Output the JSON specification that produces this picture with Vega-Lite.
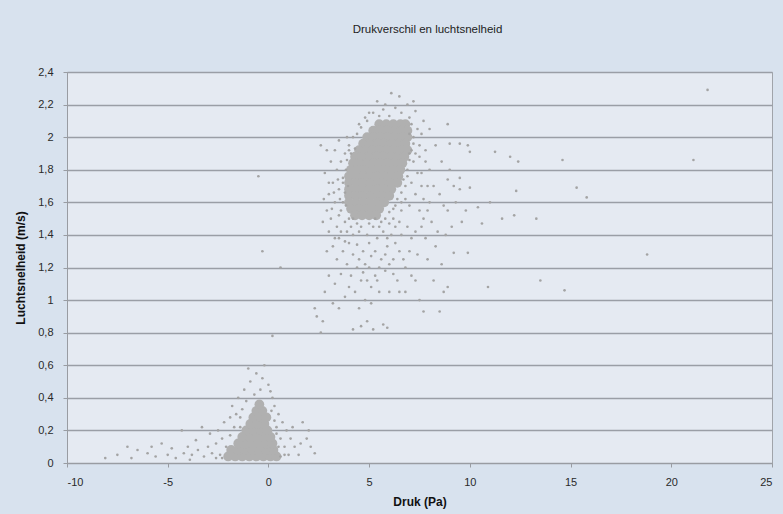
{
  "$schema": "https://vega.github.io/schema/vega-lite/v6.json",
  "autosize": "none",
  "width": 705,
  "height": 391,
  "padding": {"left": 67, "top": 72, "right": 11, "bottom": 51},
  "background": "#d8e2ee",
  "title": {"text": "Drukverschil en luchtsnelheid", "fontSize": 11.5, "fontWeight": "normal", "font": "Liberation Sans", "color": "#222222", "offset": 31, "dx": 8},
  "config": {
    "view": {"fill": "#e5eaf2", "stroke": "#a0a4aa", "strokeWidth": 1},
    "axis": {"labelFont": "Liberation Sans", "titleFont": "Liberation Sans", "labelFontSize": 11, "labelColor": "#2a2a2a", "titleColor": "#111111", "titleFontSize": 12, "titleFontWeight": "bold", "domainColor": "#999ca2", "tickColor": "#999ca2", "tickSize": 4, "labelOverlap": false}
  },
  "datasets": {
    "core": [
      {"x":5.5,"y":2.08},{"x":5.85,"y":2.08},{"x":6.2,"y":2.08},{"x":6.55,"y":2.08},{"x":6.8,"y":2.08},
      {"x":5.2,"y":2.04},{"x":5.55,"y":2.04},{"x":5.9,"y":2.04},{"x":6.25,"y":2.04},{"x":6.6,"y":2.04},{"x":6.9,"y":2.04},
      {"x":4.9,"y":2.0},{"x":5.25,"y":2.0},{"x":5.6,"y":2.0},{"x":5.95,"y":2.0},{"x":6.3,"y":2.0},{"x":6.65,"y":2.0},{"x":6.9,"y":2.0},
      {"x":4.7,"y":1.96},{"x":5.05,"y":1.96},{"x":5.4,"y":1.96},{"x":5.75,"y":1.96},{"x":6.1,"y":1.96},{"x":6.45,"y":1.96},{"x":6.8,"y":1.96},
      {"x":4.5,"y":1.92},{"x":4.85,"y":1.92},{"x":5.2,"y":1.92},{"x":5.55,"y":1.92},{"x":5.9,"y":1.92},{"x":6.25,"y":1.92},{"x":6.6,"y":1.92},{"x":6.9,"y":1.92},
      {"x":4.3,"y":1.88},{"x":4.65,"y":1.88},{"x":5.0,"y":1.88},{"x":5.35,"y":1.88},{"x":5.7,"y":1.88},{"x":6.05,"y":1.88},{"x":6.4,"y":1.88},{"x":6.75,"y":1.88},
      {"x":4.2,"y":1.84},{"x":4.55,"y":1.84},{"x":4.9,"y":1.84},{"x":5.25,"y":1.84},{"x":5.6,"y":1.84},{"x":5.95,"y":1.84},{"x":6.3,"y":1.84},{"x":6.65,"y":1.84},
      {"x":4.1,"y":1.8},{"x":4.45,"y":1.8},{"x":4.8,"y":1.8},{"x":5.15,"y":1.8},{"x":5.5,"y":1.8},{"x":5.85,"y":1.8},{"x":6.2,"y":1.8},{"x":6.55,"y":1.8},
      {"x":4.0,"y":1.76},{"x":4.35,"y":1.76},{"x":4.7,"y":1.76},{"x":5.05,"y":1.76},{"x":5.4,"y":1.76},{"x":5.75,"y":1.76},{"x":6.1,"y":1.76},{"x":6.45,"y":1.76},
      {"x":4.0,"y":1.72},{"x":4.35,"y":1.72},{"x":4.7,"y":1.72},{"x":5.05,"y":1.72},{"x":5.4,"y":1.72},{"x":5.75,"y":1.72},{"x":6.1,"y":1.72},{"x":6.4,"y":1.72},
      {"x":4.0,"y":1.68},{"x":4.35,"y":1.68},{"x":4.7,"y":1.68},{"x":5.05,"y":1.68},{"x":5.4,"y":1.68},{"x":5.75,"y":1.68},{"x":6.1,"y":1.68},
      {"x":4.0,"y":1.64},{"x":4.35,"y":1.64},{"x":4.7,"y":1.64},{"x":5.05,"y":1.64},{"x":5.4,"y":1.64},{"x":5.75,"y":1.64},{"x":6.0,"y":1.64},
      {"x":4.0,"y":1.6},{"x":4.35,"y":1.6},{"x":4.7,"y":1.6},{"x":5.05,"y":1.6},{"x":5.4,"y":1.6},{"x":5.75,"y":1.6},
      {"x":4.1,"y":1.56},{"x":4.45,"y":1.56},{"x":4.8,"y":1.56},{"x":5.15,"y":1.56},{"x":5.5,"y":1.56},
      {"x":4.3,"y":1.52},{"x":4.65,"y":1.52},{"x":5.0,"y":1.52},{"x":5.35,"y":1.52},
      {"x":-2.0,"y":0.04},{"x":-1.65,"y":0.04},{"x":-1.3,"y":0.04},{"x":-0.95,"y":0.04},{"x":-0.6,"y":0.04},{"x":-0.25,"y":0.04},{"x":0.1,"y":0.04},{"x":0.4,"y":0.04},
      {"x":-1.85,"y":0.08},{"x":-1.5,"y":0.08},{"x":-1.15,"y":0.08},{"x":-0.8,"y":0.08},{"x":-0.45,"y":0.08},{"x":-0.1,"y":0.08},{"x":0.25,"y":0.08},
      {"x":-1.5,"y":0.12},{"x":-1.15,"y":0.12},{"x":-0.8,"y":0.12},{"x":-0.45,"y":0.12},{"x":-0.1,"y":0.12},{"x":0.2,"y":0.12},
      {"x":-1.3,"y":0.16},{"x":-0.95,"y":0.16},{"x":-0.6,"y":0.16},{"x":-0.25,"y":0.16},{"x":0.1,"y":0.16},
      {"x":-1.1,"y":0.2},{"x":-0.75,"y":0.2},{"x":-0.4,"y":0.2},{"x":-0.05,"y":0.2},
      {"x":-0.9,"y":0.24},{"x":-0.55,"y":0.24},{"x":-0.2,"y":0.24},
      {"x":-0.75,"y":0.28},{"x":-0.4,"y":0.28},{"x":-0.1,"y":0.28},
      {"x":-0.6,"y":0.32},{"x":-0.3,"y":0.32},
      {"x":-0.45,"y":0.36}
    ],
    "pts": [
      {"x":5.2,"y":2.15},{"x":5.8,"y":2.2},{"x":6.1,"y":2.27},{"x":6.5,"y":2.25},{"x":7.2,"y":2.22},{"x":6.0,"y":2.13},{"x":6.6,"y":2.15},{"x":7.0,"y":2.12},{"x":5.5,"y":2.13},{"x":7.3,"y":2.16},
      {"x":4.9,"y":2.1},{"x":4.6,"y":2.06},{"x":4.4,"y":2.02},{"x":7.4,"y":2.05},{"x":7.6,"y":2.02},{"x":7.2,"y":2.0},{"x":8.0,"y":2.05},{"x":8.3,"y":1.95},{"x":7.8,"y":1.92},{"x":7.5,"y":1.95},
      {"x":3.9,"y":2.0},{"x":3.5,"y":1.98},{"x":2.6,"y":1.95},{"x":2.9,"y":1.92},{"x":-0.5,"y":1.76},{"x":6.9,"y":2.2},{"x":5.4,"y":2.22},
      {"x":3.8,"y":1.9},{"x":3.6,"y":1.85},{"x":3.4,"y":1.8},{"x":3.7,"y":1.75},{"x":3.2,"y":1.72},{"x":3.5,"y":1.68},{"x":3.0,"y":1.65},{"x":3.3,"y":1.6},{"x":3.6,"y":1.55},{"x":3.1,"y":1.5},
      {"x":3.4,"y":1.45},{"x":2.9,"y":1.55},{"x":3.8,"y":1.48},{"x":3.9,"y":1.42},{"x":3.5,"y":1.38},{"x":3.2,"y":1.33},{"x":3.7,"y":1.3},{"x":4.0,"y":1.35},{"x":4.2,"y":1.28},{"x":3.9,"y":1.22},
      {"x":4.4,"y":1.2},{"x":4.1,"y":1.15},{"x":4.6,"y":1.12},{"x":4.3,"y":1.05},{"x":4.8,"y":1.0},{"x":4.5,"y":0.95},{"x":4.2,"y":1.4},{"x":4.6,"y":1.45},{"x":4.9,"y":1.4},{"x":5.2,"y":1.45},
      {"x":5.0,"y":1.35},{"x":5.4,"y":1.38},{"x":5.7,"y":1.42},{"x":5.3,"y":1.3},{"x":5.6,"y":1.25},{"x":5.9,"y":1.33},{"x":6.1,"y":1.4},{"x":6.3,"y":1.45},{"x":5.0,"y":1.2},{"x":5.3,"y":1.15},
      {"x":5.8,"y":1.18},{"x":6.2,"y":1.25},{"x":6.5,"y":1.3},{"x":6.0,"y":1.05},{"x":5.5,"y":1.05},{"x":5.1,"y":0.98},{"x":6.4,"y":1.12},{"x":6.8,"y":1.2},{"x":7.0,"y":1.3},{"x":5.7,"y":0.85},
      {"x":4.6,"y":0.84},{"x":4.2,"y":0.82},{"x":5.2,"y":0.82},{"x":5.9,"y":0.83},{"x":4.9,"y":0.87},{"x":2.3,"y":0.95},{"x":2.4,"y":0.9},{"x":2.7,"y":0.87},{"x":2.6,"y":0.8},{"x":2.8,"y":1.05},{"x":3.0,"y":1.15},
      {"x":3.3,"y":1.1},{"x":3.6,"y":1.16},{"x":4.0,"y":1.08},{"x":4.7,"y":1.17},{"x":5.4,"y":1.12},{"x":6.2,"y":1.16},{"x":6.5,"y":1.05},
      {"x":7.7,"y":0.93},{"x":8.7,"y":1.05},{"x":8.9,"y":1.08},{"x":8.5,"y":0.93},{"x":7.5,"y":1.0},
      {"x":7.0,"y":1.9},{"x":7.2,"y":1.85},{"x":6.9,"y":1.8},{"x":7.4,"y":1.78},{"x":7.1,"y":1.72},{"x":7.6,"y":1.7},{"x":7.3,"y":1.65},{"x":6.8,"y":1.62},{"x":7.0,"y":1.58},{"x":7.5,"y":1.55},
      {"x":6.6,"y":1.55},{"x":6.3,"y":1.58},{"x":6.2,"y":1.5},{"x":6.5,"y":1.48},{"x":6.9,"y":1.45},{"x":7.3,"y":1.42},{"x":7.7,"y":1.5},{"x":8.0,"y":1.6},{"x":8.2,"y":1.7},{"x":8.5,"y":1.65},
      {"x":8.1,"y":1.48},{"x":7.8,"y":1.38},{"x":8.4,"y":1.42},{"x":8.9,"y":1.55},{"x":9.2,"y":1.7},{"x":9.5,"y":1.68},{"x":9.0,"y":1.8},{"x":8.6,"y":1.85},{"x":8.0,"y":1.8},{"x":7.8,"y":1.85},
      {"x":8.9,"y":2.08},{"x":9.0,"y":1.96},{"x":9.5,"y":1.96},{"x":9.9,"y":1.95},{"x":10.0,"y":1.91},{"x":11.25,"y":1.91},{"x":12.0,"y":1.88},{"x":12.4,"y":1.85},{"x":14.6,"y":1.86},{"x":21.1,"y":1.86},
      {"x":8.9,"y":1.74},{"x":9.5,"y":1.75},{"x":10.0,"y":1.69},{"x":12.3,"y":1.67},{"x":15.3,"y":1.69},{"x":15.8,"y":1.63},{"x":8.7,"y":1.58},{"x":9.3,"y":1.6},{"x":9.8,"y":1.55},{"x":10.4,"y":1.57},
      {"x":11.0,"y":1.6},{"x":11.6,"y":1.5},{"x":12.2,"y":1.52},{"x":10.6,"y":1.47},{"x":9.6,"y":1.48},{"x":13.3,"y":1.5},{"x":9.2,"y":1.29},{"x":9.9,"y":1.29},{"x":18.8,"y":1.28},{"x":10.9,"y":1.08},
      {"x":13.5,"y":1.12},{"x":14.7,"y":1.06},{"x":21.8,"y":2.29},{"x":8.6,"y":1.22},{"x":7.3,"y":1.12},{"x":7.9,"y":1.25},{"x":8.3,"y":1.33},
      {"x":4.0,"y":1.95},{"x":4.2,"y":2.0},{"x":4.5,"y":2.08},{"x":4.8,"y":2.12},{"x":5.0,"y":2.15},{"x":7.1,"y":2.08},{"x":7.0,"y":2.02},{"x":7.2,"y":1.96},{"x":7.1,"y":1.92},{"x":7.3,"y":1.9},
      {"x":7.0,"y":1.86},{"x":6.9,"y":1.76},{"x":6.8,"y":1.7},{"x":6.6,"y":1.66},{"x":6.4,"y":1.62},{"x":6.2,"y":1.56},{"x":6.0,"y":1.54},{"x":5.8,"y":1.5},{"x":5.6,"y":1.48},{"x":5.0,"y":1.47},
      {"x":4.4,"y":1.47},{"x":4.0,"y":1.5},{"x":3.7,"y":1.6},{"x":3.8,"y":1.66},{"x":3.7,"y":1.72},{"x":3.85,"y":1.8},{"x":3.9,"y":1.86},{"x":4.0,"y":1.92},{"x":6.6,"y":1.6},{"x":6.7,"y":1.74},
      {"x":3.3,"y":1.92},{"x":3.1,"y":1.85},{"x":2.8,"y":1.78},{"x":3.0,"y":1.72},{"x":3.45,"y":1.74},{"x":3.25,"y":1.66},{"x":2.75,"y":1.62},{"x":3.55,"y":1.62},{"x":3.15,"y":1.56},{"x":3.5,"y":1.52},
      {"x":2.7,"y":1.48},{"x":3.0,"y":1.42},{"x":3.6,"y":1.42},{"x":3.3,"y":1.38},{"x":2.9,"y":1.3},{"x":3.4,"y":1.25},{"x":3.8,"y":1.36},{"x":4.1,"y":1.45},{"x":4.4,"y":1.34},{"x":4.7,"y":1.3},
      {"x":4.5,"y":1.25},{"x":4.8,"y":1.22},{"x":5.1,"y":1.27},{"x":5.5,"y":1.2},{"x":5.8,"y":1.28},{"x":6.0,"y":1.22},{"x":6.3,"y":1.35},{"x":6.6,"y":1.4},{"x":6.7,"y":1.25},{"x":7.1,"y":1.38},
      {"x":7.4,"y":1.28},{"x":7.6,"y":1.45},{"x":7.9,"y":1.55},{"x":7.7,"y":1.62},{"x":7.9,"y":1.7},{"x":7.6,"y":1.78},{"x":7.5,"y":1.88},{"x":7.7,"y":2.1},{"x":6.3,"y":2.18},{"x":5.7,"y":2.17},
      {"x":4.3,"y":1.93},{"x":4.1,"y":1.9},{"x":3.95,"y":1.7},{"x":3.85,"y":1.58},{"x":4.2,"y":1.5},{"x":4.5,"y":1.42},{"x":5.3,"y":1.5},{"x":5.5,"y":1.45},{"x":6.0,"y":1.47},{"x":5.9,"y":1.38},
      {"x":5.1,"y":1.08},{"x":4.9,"y":1.12},{"x":3.8,"y":1.02},{"x":3.5,"y":0.95},{"x":3.2,"y":0.98},{"x":6.8,"y":1.05},{"x":7.1,"y":1.15},{"x":8.2,"y":1.12},{"x":8.8,"y":1.4},{"x":9.1,"y":1.45},
      {"x":-8.1,"y":0.03},{"x":-7.5,"y":0.05},{"x":-6.8,"y":0.03},{"x":-6.0,"y":0.06},{"x":-5.6,"y":0.04},{"x":-5.0,"y":0.05},{"x":-4.6,"y":0.03},{"x":-4.2,"y":0.06},{"x":-3.8,"y":0.05},{"x":-3.5,"y":0.08},
      {"x":-3.2,"y":0.04},{"x":-3.0,"y":0.1},{"x":-2.8,"y":0.06},{"x":-2.6,"y":0.12},{"x":-2.4,"y":0.05},{"x":-4.0,"y":0.1},{"x":-4.8,"y":0.09},{"x":-5.3,"y":0.12},{"x":-3.6,"y":0.14},{"x":-2.9,"y":0.18},
      {"x":-2.5,"y":0.2},{"x":-3.3,"y":0.22},{"x":-4.3,"y":0.2},{"x":-2.2,"y":0.25},{"x":-1.9,"y":0.28},{"x":-1.6,"y":0.3},{"x":-1.8,"y":0.35},{"x":-1.5,"y":0.4},{"x":-1.2,"y":0.45},{"x":-0.9,"y":0.5},
      {"x":-0.6,"y":0.55},{"x":-0.3,"y":0.52},{"x":0.0,"y":0.48},{"x":-0.4,"y":0.45},{"x":0.2,"y":0.4},{"x":0.3,"y":0.35},{"x":0.5,"y":0.3},{"x":0.7,"y":0.25},{"x":0.9,"y":0.2},{"x":1.1,"y":0.15},
      {"x":1.3,"y":0.1},{"x":1.6,"y":0.12},{"x":1.9,"y":0.15},{"x":2.1,"y":0.1},{"x":1.5,"y":0.05},{"x":1.0,"y":0.05},{"x":2.3,"y":0.06},{"x":0.8,"y":0.1},{"x":-6.5,"y":0.08},{"x":-7.0,"y":0.1},
      {"x":-1.0,"y":0.58},{"x":-0.2,"y":0.6},{"x":0.2,"y":0.78},{"x":0.6,"y":1.2},{"x":-0.3,"y":1.3},{"x":2.0,"y":0.2},{"x":1.7,"y":0.25},{"x":-0.7,"y":0.42},{"x":-1.1,"y":0.38},{"x":0.1,"y":0.44},
      {"x":-2.3,"y":0.15},{"x":-2.6,"y":0.03},{"x":-1.4,"y":0.22},{"x":0.6,"y":0.15},{"x":0.8,"y":0.05},{"x":1.2,"y":0.22},{"x":-3.9,"y":0.02},{"x":-5.8,"y":0.1},{"x":-1.3,"y":0.33},{"x":0.4,"y":0.22},
      {"x":-2.3,"y":0.03},{"x":-2.1,"y":0.1},{"x":-1.9,"y":0.17},{"x":-1.7,"y":0.22},{"x":0.5,"y":0.1},{"x":0.6,"y":0.04},{"x":0.4,"y":0.18},{"x":0.3,"y":0.26},{"x":-1.4,"y":0.28},{"x":0.15,"y":0.32}
    ]
  },
  "encoding": {
    "x": {"field": "x", "type": "quantitative", "scale": {"domain": [-10, 25], "nice": false, "zero": false},
      "axis": {"title": "Druk (Pa)", "values": [-10, -5, 0, 5, 10, 15, 20, 25], "grid": false, "labelPadding": 9, "titlePadding": 9, "labelExpr": "toString(datum.value)"}},
    "y": {"field": "y", "type": "quantitative", "scale": {"domain": [0, 2.4], "nice": false},
      "axis": {"title": "Luchtsnelheid (m/s)", "values": [0, 0.2, 0.4, 0.6, 0.8, 1, 1.2, 1.4, 1.6, 1.8, 2, 2.2, 2.4], "grid": true, "gridColor": "#9a9ea6", "gridWidth": 1.5, "labelPadding": 10, "titlePadding": 10,
        "labelExpr": "replace(format(datum.value, '.2~f'), '.', ',')"}}
  },
  "layer": [
    {
      "data": {"name": "core"},
      "mark": {"type": "point", "filled": true, "shape": "circle", "size": 95, "color": "#b0b0b0", "opacity": 1}
    },
    {
      "data": {"name": "pts"},
      "mark": {"type": "point", "filled": true, "shape": "circle", "size": 7, "color": "#a4a4a4", "opacity": 1}
    }
  ]
}
